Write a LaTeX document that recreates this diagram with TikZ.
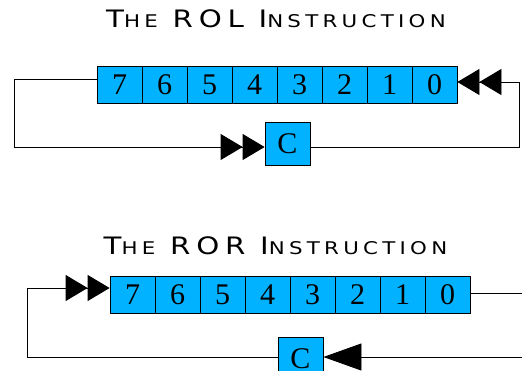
\documentclass[tikz,border=0pt]{standalone}
\usepackage{fontspec}
\usepackage{graphicx}
\usetikzlibrary{arrows.meta, positioning, calc}
\newfontfamily\titlefont[LetterSpace=20]{DejaVu Sans}
\newfontfamily\bitfont{Liberation Serif}
\definecolor{bitblue}{RGB}{0,178,255}
\newcommand{\bigsc}[1]{{\fontsize{24}{24}\selectfont #1}}
\newcommand{\smallsc}[1]{{\fontsize{17.5}{17.5}\selectfont #1}}
\newcommand{\wsp}{\hspace{12pt}}
\tikzset{
  bit/.style={draw, fill=bitblue, line width=0.8pt, minimum width=45pt, minimum height=37pt, inner sep=0pt, font=\bitfont\fontsize{30}{30}\selectfont},
  carry/.style={bit, minimum height=43pt},
  ttl/.style={font=\titlefont, inner sep=0pt},
  wire/.style={line width=0.8pt, draw=black},
  dbl/.style={wire, -{Triangle[length=22pt,width=26pt]Triangle[length=22pt,width=26pt]}},
  sgl/.style={wire, -{Triangle[length=38pt,width=27pt]}}
}
\begin{document}
\begin{tikzpicture}[x=1pt, y=-1pt]
		\useasboundingbox (0,0) rectangle (522,370);
		\clip (0,0) rectangle (522,370);
		% ROL
		\begin{scope}
		\node[ttl] (rolt) at (276,19) {\scalebox{1.22}[1]{\bigsc{T}\smallsc{HE}\wsp\bigsc{ROL}\wsp\bigsc{I}\smallsc{NSTRUCTION}}};
		\node[bit] (r7) at (119.5,84.5) {7};
		\node[bit] (r6) at (164.5,84.5) {6};
		\node[bit] (r5) at (209.5,84.5) {5};
		\node[bit] (r4) at (254.5,84.5) {4};
		\node[bit] (r3) at (299.5,84.5) {3};
		\node[bit] (r2) at (344.5,84.5) {2};
		\node[bit] (r1) at (389.5,84.5) {1};
		\node[bit] (r0) at (434.5,84.5) {0};
		\node[carry] (rc) at (287.5,143.5) {C};
		\coordinate (rla) at (97,79);
		\coordinate (rlb) at (14,79);
		\coordinate (rlc) at (14,147);
		\coordinate (rra) at (519,147.5);
		\coordinate (rrb) at (519,82);
		\draw[dbl] (rla) -- (rlb) -- (rlc) -- (rlc -| rc.west);
		\draw[dbl] (rc.east |- rra) -- (rra) -- (rrb) -- (rrb -| r0.east);
		\end{scope}
		% ROR
		\begin{scope}
		\node[ttl] (rort) at (275.5,245.5) {\scalebox{1.22}[1]{\bigsc{T}\smallsc{HE}\wsp\bigsc{ROR}\wsp\bigsc{I}\smallsc{NSTRUCTION}}};
		\node[bit] (s7) at (132.5,294.5) {7};
		\node[bit] (s6) at (177.5,294.5) {6};
		\node[bit] (s5) at (222.5,294.5) {5};
		\node[bit] (s4) at (267.5,294.5) {4};
		\node[bit] (s3) at (312.5,294.5) {3};
		\node[bit] (s2) at (357.5,294.5) {2};
		\node[bit] (s1) at (402.5,294.5) {1};
		\node[bit] (s0) at (447.5,294.5) {0};
		\node[carry, anchor=north] (sc) at (300.5,336.5) {C};
		\coordinate (sla) at (27,288);
		\coordinate (slb) at (27,357);
		\coordinate (sra) at (524,293);
		\coordinate (srb) at (524,357);
		\draw[dbl] (sla) -- (sla -| s7.west);
		\draw[wire] (sla) -- (slb) -- (slb -| sc.west);
		\draw[wire] (s0.east |- sra) -- (sra);
		\draw[sgl] (srb) -- (srb -| sc.east);
		\end{scope}
	\end{tikzpicture}
\end{document}
